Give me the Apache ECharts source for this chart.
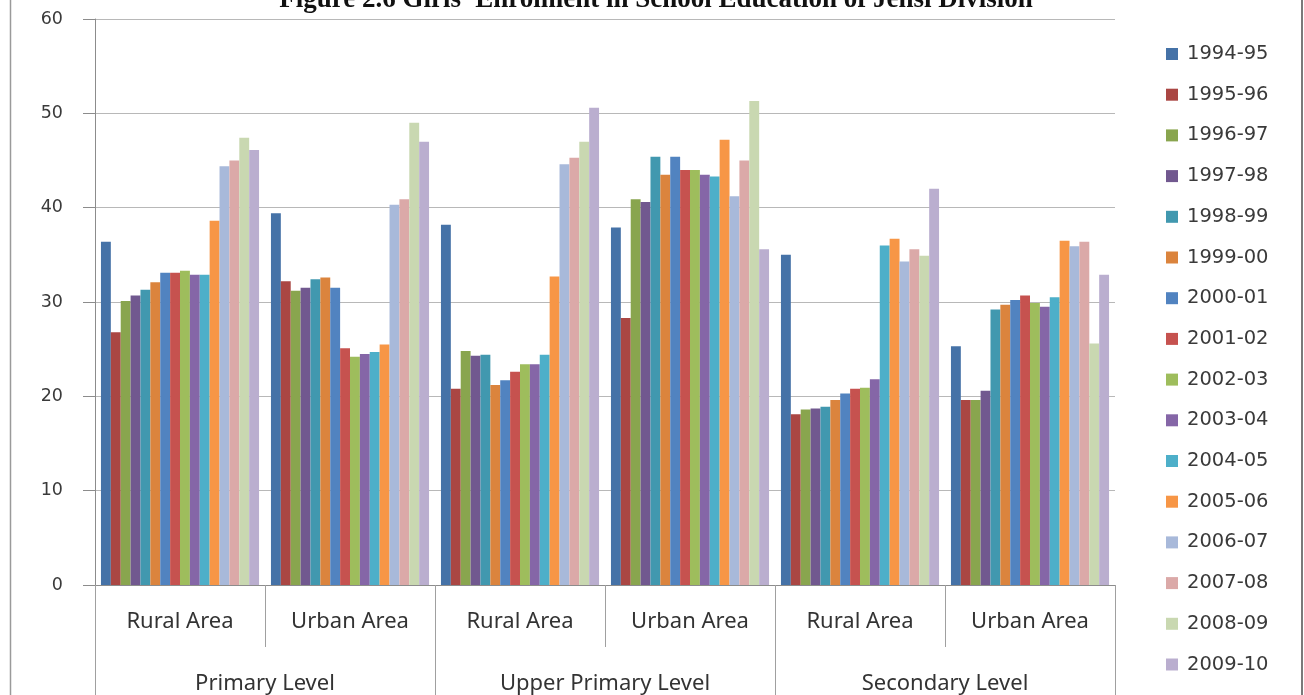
<!DOCTYPE html>
<html>
<head>
<meta charset="utf-8">
<title>Girls' Enrolment in School Education</title>
<script src="https://cdn.jsdelivr.net/npm/echarts@6/dist/echarts.min.js"></script>
<style>
  html, body { margin: 0; padding: 0; background: #ffffff; }
  #chart { width: 1304px; height: 695px; }
</style>
</head>
<body>
<div id="chart"></div>
<script>
// Academic years (one bar series per year)
const years = ['1994-95', '1995-96', '1996-97', '1997-98', '1998-99', '1999-00', '2000-01', '2001-02',
               '2002-03', '2003-04', '2004-05', '2005-06', '2006-07', '2007-08', '2008-09', '2009-10'];

// Inner and outer category labels
const areas = ['Rural Area', 'Urban Area', 'Rural Area', 'Urban Area', 'Rural Area', 'Urban Area'];
const levels = ['Primary Level', 'Upper Primary Level', 'Secondary Level'];

// Girls' share of enrolment (%), one value per year, for each level/area
const primaryRural      = [36.4, 26.8, 30.1, 30.7, 31.3, 32.1, 33.1, 33.1, 33.3, 32.9, 32.9, 38.6, 44.4, 45.0, 47.4, 46.1];
const primaryUrban      = [39.4, 32.2, 31.2, 31.5, 32.4, 32.6, 31.5, 25.1, 24.2, 24.5, 24.7, 25.5, 40.3, 40.9, 49.0, 47.0];
const upperPrimaryRural = [38.2, 20.8, 24.8, 24.3, 24.4, 21.2, 21.7, 22.6, 23.4, 23.4, 24.4, 32.7, 44.6, 45.3, 47.0, 50.6];
const upperPrimaryUrban = [37.9, 28.3, 40.9, 40.6, 45.4, 43.5, 45.4, 44.0, 44.0, 43.5, 43.3, 47.2, 41.2, 45.0, 51.3, 35.6];
const secondaryRural    = [35.0, 18.1, 18.6, 18.7, 18.9, 19.6, 20.3, 20.8, 20.9, 21.8, 36.0, 36.7, 34.3, 35.6, 34.9, 42.0];
const secondaryUrban    = [25.3, 19.6, 19.6, 20.6, 29.2, 29.7, 30.2, 30.7, 29.9, 29.5, 30.5, 36.5, 35.9, 36.4, 25.6, 32.9];

// Value axis ticks
const yMin = 0, yMax = 60, yStep = 10;

const groups = [primaryRural, primaryUrban, upperPrimaryRural, upperPrimaryUrban, secondaryRural, secondaryUrban];

const palette = ['#4572A7', '#AA4643', '#89A54E', '#71588F', '#4198AF', '#DB843D',
                 '#5183C0', '#C6524F', '#9EBD5C', '#8566A7', '#4DAFC9', '#F79646',
                 '#A8B9DA', '#DBA9A8', '#C9D8B1', '#BAAECF'];

const series = years.map((yr, i) => ({
  name: yr,
  type: 'bar',
  xAxisIndex: 0,
  data: groups.map(g => g[i]),
  barGap: '0%',
  barCategoryGap: '7%',
  itemStyle: { color: palette[i] },
  emphasis: { disabled: true }
}));

const chart = echarts.init(document.getElementById('chart'), null, { renderer: 'canvas' });

const axisGray = '#8c8c8c';

chart.setOption({
  animation: false,
  backgroundColor: '#ffffff',
  color: palette,
  graphic: [
    {
      type: 'text',
      x: 656, y: 14,
      style: {
        text: "Figure 2.6 Girls' Enrolment in School Education of Jehsi Division",
        font: 'bold 27px "Liberation Serif", "DejaVu Serif", serif',
        fill: '#111111',
        align: 'center',
        verticalAlign: 'bottom'
      }
    },
    {
      type: 'line',
      shape: { x1: 10.5, y1: 0, x2: 10.5, y2: 695 },
      style: { stroke: '#9a9a9a', lineWidth: 1.5 }
    },
    {
      type: 'line',
      shape: { x1: 1302, y1: 0, x2: 1302, y2: 695 },
      style: { stroke: '#7a7a7a', lineWidth: 2 }
    }
  ],
  grid: { left: 95, right: 189, top: 19, bottom: 107, containLabel: false },
  legend: {
    orient: 'vertical',
    left: 1161,
    top: 39,
    itemWidth: 12,
    itemHeight: 12,
    itemGap: 20.7,
    icon: 'rect',
    data: years,
    textStyle: {
      fontFamily: '"DejaVu Sans", sans-serif',
      fontSize: 19.5,
      lineHeight: 20,
      color: '#3a3a3a',
      padding: [0, 0, 0, 4]
    },
    selectedMode: false
  },
  xAxis: [
    {
      type: 'category',
      data: areas,
      position: 'bottom',
      axisLine: { show: true, lineStyle: { color: axisGray, width: 1 } },
      axisTick: { show: true, interval: 0, length: 62, lineStyle: { color: '#a0a0a0' } },
      axisLabel: {
        interval: 0,
        margin: 26,
        fontFamily: '"Noto Sans", sans-serif',
        fontSize: 22,
        color: '#333333'
      }
    },
    {
      type: 'category',
      data: levels,
      position: 'bottom',
      axisLine: { show: false },
      axisTick: { show: true, interval: 0, length: 110, lineStyle: { color: '#a0a0a0' } },
      axisLabel: {
        interval: 0,
        margin: 88,
        fontFamily: '"Noto Sans", sans-serif',
        fontSize: 22,
        color: '#333333'
      }
    }
  ],
  yAxis: {
    type: 'value',
    min: yMin,
    max: yMax,
    interval: yStep,
    axisLine: { show: true, lineStyle: { color: axisGray, width: 1 } },
    axisTick: { show: true, length: 12, lineStyle: { color: axisGray } },
    axisLabel: {
      margin: 32,
      fontFamily: '"DejaVu Sans", sans-serif',
      fontSize: 17.5,
      color: '#3a3a3a'
    },
    splitLine: { show: true, lineStyle: { color: '#b8b8b8', width: 1 } }
  },
  series: series
});
</script>
</body>
</html>
